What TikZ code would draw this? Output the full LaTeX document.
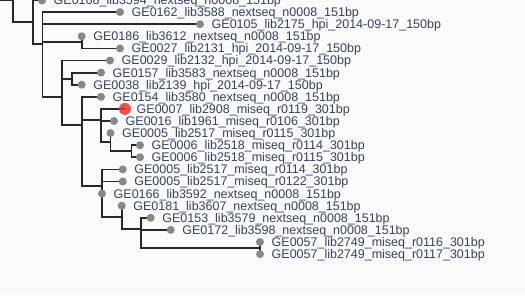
\documentclass[tikz,border=0pt]{standalone}
\usepackage{fontspec}
\setmainfont{Liberation Sans}
\definecolor{bg}{RGB}{250,250,250}
\definecolor{branch}{RGB}{40,40,40}
\definecolor{tip}{RGB}{136,136,136}
\definecolor{hilite}{RGB}{242,48,48}
\definecolor{lbl}{RGB}{52,66,98}
\begin{document}
\begin{tikzpicture}[x=1pt,y=-1pt,
  edge/.style={draw=branch,line width=1.8pt},
  tipdot/.style={circle,fill=tip,inner sep=0pt,minimum size=8pt},
  reddot/.style={circle,fill=hilite,fill opacity=0.85,inner sep=0pt,minimum size=12pt},
  leaflabel/.style={anchor=base west,inner sep=0pt,text=lbl,font=\fontsize{12.5}{14}\selectfont}]
\fill[bg] (0,0) rectangle (525,295);
\useasboundingbox (0,0) rectangle (525,295);
\clip (0,0) rectangle (525,295);

% leaf tips
\coordinate (L0) at (42,0.5);
\coordinate (L1) at (120,12.1);
\coordinate (L2) at (200,24.2);
\coordinate (L3) at (81.7,36.3);
\coordinate (L4) at (120,48.4);
\coordinate (L5) at (110,60.5);
\coordinate (L6) at (101,72.6);
\coordinate (L7) at (81.7,84.7);
\coordinate (L8) at (101,96.8);
\coordinate (L9) at (125,108.9);
\coordinate (L10) at (114,121);
\coordinate (L11) at (110.5,133.1);
\coordinate (L12) at (140,145.2);
\coordinate (L13) at (140,157.3);
\coordinate (L14) at (122.7,169.4);
\coordinate (L15) at (122.7,181.5);
\coordinate (L16) at (102,193.6);
\coordinate (L17) at (121.7,205.7);
\coordinate (L18) at (150.7,217.8);
\coordinate (L19) at (170.7,229.9);
\coordinate (L20) at (260,242);
\coordinate (L21) at (260,254.1);

% internal nodes
\coordinate (Zin) at (0,0.5);
\coordinate (Ztop) at (13,-10);
\coordinate (Z) at (13,0.5);
\coordinate (A) at (33,21.9);
\coordinate (B) at (42.5,43.9);
\coordinate (C) at (81.7,42.35);
\coordinate (D) at (61.7,97.3);
\coordinate (F) at (71.7,78.65);
\coordinate (E) at (81.7,124.9);
\coordinate (H) at (101,120.25);
\coordinate (J) at (110.5,142.2);
\coordinate (K) at (131.5,151.25);
\coordinate (P) at (102,185.7);
\coordinate (M) at (121.7,217.3);
\coordinate (N) at (141,228.9);
\coordinate (O) at (260,248);

% branches
\draw[edge] (Zin) -- (Z) -- (Ztop);
\draw[edge] (Z) |- (A);
\draw[edge] (A) |- (L0);
\draw[edge] (A) |- (B);
\foreach \c in {L1,L2,C,D} \draw[edge] (B) |- (\c);
\draw[edge] (L3) -- (C);
\draw[edge] (C) |- (L4);
\foreach \c in {L5,F,E} \draw[edge] (D) |- (\c);
\foreach \c in {L6,L7} \draw[edge] (F) |- (\c);
\foreach \c in {L8,H,P} \draw[edge] (E) |- (\c);
\foreach \c in {L9,L10,J} \draw[edge] (H) |- (\c);
\draw[edge] (L11) -- (J);
\draw[edge] (J) |- (K);
\foreach \c in {L12,L13} \draw[edge] (K) |- (\c);
\foreach \c in {L14,L15,M} \draw[edge] (P) |- (\c);
\draw[edge] (P) -- (L16);
\draw[edge] (L17) -- (M);
\draw[edge] (M) |- (N);
\foreach \c in {L18,L19,O} \draw[edge] (N) |- (\c);
\draw[edge] (L20) -- (L21);

% tip markers
\foreach \i in {0,...,8,10,11,...,21} \node[tipdot] (d\i) at (L\i) {};
\node[reddot] (d9) at (L9) {};

% tip labels
\foreach \i/\t in {
  0/GE0168\_lib3594\_nextseq\_n0008\_151bp,
  1/GE0162\_lib3588\_nextseq\_n0008\_151bp,
  2/GE0105\_lib2175\_hpi\_2014-09-17\_150bp,
  3/GE0186\_lib3612\_nextseq\_n0008\_151bp,
  4/GE0027\_lib2131\_hpi\_2014-09-17\_150bp,
  5/GE0029\_lib2132\_hpi\_2014-09-17\_150bp,
  6/GE0157\_lib3583\_nextseq\_n0008\_151bp,
  7/GE0038\_lib2139\_hpi\_2014-09-17\_150bp,
  8/GE0154\_lib3580\_nextseq\_n0008\_151bp,
  9/GE0007\_lib2908\_miseq\_r0119\_301bp,
  10/GE0016\_lib1961\_miseq\_r0106\_301bp,
  11/GE0005\_lib2517\_miseq\_r0115\_301bp,
  12/GE0006\_lib2518\_miseq\_r0114\_301bp,
  13/GE0006\_lib2518\_miseq\_r0115\_301bp,
  14/GE0005\_lib2517\_miseq\_r0114\_301bp,
  15/GE0005\_lib2517\_miseq\_r0122\_301bp,
  16/GE0166\_lib3592\_nextseq\_n0008\_151bp,
  17/GE0181\_lib3607\_nextseq\_n0008\_151bp,
  18/GE0153\_lib3579\_nextseq\_n0008\_151bp,
  19/GE0172\_lib3598\_nextseq\_n0008\_151bp,
  20/GE0057\_lib2749\_miseq\_r0116\_301bp,
  21/GE0057\_lib2749\_miseq\_r0117\_301bp}
  \node[leaflabel] (t\i) at ([shift={(11.5,4.4)}]L\i) {\t};
\end{tikzpicture}
\end{document}
